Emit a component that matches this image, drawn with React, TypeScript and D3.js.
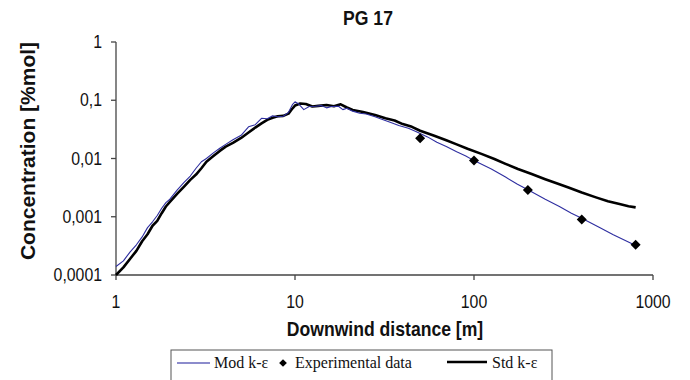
import React from "react";
import * as d3 from "d3";

const title = "PG 17";
const xTicks = [1, 10, 100, 1000];
const xTickLabels = ["1", "10", "100", "1000"];
const yTicks = [1, 0.1, 0.01, 0.001, 0.0001];
const yTickLabels = ["1", "0,1", "0,01", "0,001", "0,0001"];

const stdDist = [1, 1.1, 1.2, 1.3, 1.4, 1.5, 1.6, 1.7, 1.8, 1.9, 2.0, 2.2, 2.4, 2.6, 2.8, 3.0, 3.2, 3.5, 3.8, 4.1, 4.5, 5.0, 5.5, 6.0, 6.5, 7.0, 7.5, 8.0, 8.6, 9.2, 9.6, 10, 10.7, 11.5, 12.5, 13.5, 15, 16.5, 18, 19.5, 21, 24, 28, 32, 36, 40, 45, 50, 60, 70, 80, 92, 110, 130, 150, 176, 210, 250, 300, 340, 400, 480, 560, 650, 730, 800];
const stdConc = [1.0e-4, 1.35e-4, 1.9e-4, 2.6e-4, 3.8e-4, 5.0e-4, 7.0e-4, 8.5e-4, 1.15e-3, 1.5e-3, 1.8e-3, 2.5e-3, 3.3e-3, 4.3e-3, 5.3e-3, 6.8e-3, 8.8e-3, 1.1e-2, 1.35e-2, 1.6e-2, 1.85e-2, 2.25e-2, 2.8e-2, 3.4e-2, 4.0e-2, 4.6e-2, 5.0e-2, 5.3e-2, 5.4e-2, 5.9e-2, 7.0e-2, 8.1e-2, 8.8e-2, 8.6e-2, 7.8e-2, 8.0e-2, 8.3e-2, 7.9e-2, 8.5e-2, 7.5e-2, 6.8e-2, 6.3e-2, 5.6e-2, 4.9e-2, 4.5e-2, 3.9e-2, 3.5e-2, 3.0e-2, 2.45e-2, 2.05e-2, 1.75e-2, 1.47e-2, 1.2e-2, 9.8e-3, 8.1e-3, 6.6e-3, 5.4e-3, 4.4e-3, 3.6e-3, 3.15e-3, 2.6e-3, 2.15e-3, 1.85e-3, 1.65e-3, 1.52e-3, 1.45e-3];

const modDist = [1, 1.1, 1.2, 1.3, 1.4, 1.5, 1.6, 1.7, 1.8, 1.9, 2.0, 2.2, 2.4, 2.6, 2.8, 3.0, 3.2, 3.5, 3.8, 4.1, 4.5, 5.0, 5.5, 6.0, 6.5, 7.0, 7.5, 8.0, 8.6, 9.2, 9.7, 10, 10.5, 11.2, 12, 13, 14, 15, 16, 17.5, 18.5, 19.5, 21, 23, 25, 28, 30, 34, 38, 43, 48, 55, 62, 70, 80, 90, 100, 125, 150, 175, 200, 250, 300, 350, 400, 500, 600, 700, 800];
const modConc = [1.4e-4, 1.75e-4, 2.5e-4, 3.3e-4, 4.5e-4, 6.5e-4, 8.2e-4, 1.05e-3, 1.4e-3, 1.75e-3, 2.0e-3, 2.9e-3, 3.9e-3, 5.0e-3, 6.8e-3, 8.8e-3, 1.0e-2, 1.25e-2, 1.5e-2, 1.75e-2, 2.1e-2, 2.5e-2, 3.5e-2, 3.8e-2, 4.9e-2, 4.8e-2, 5.4e-2, 5.2e-2, 5.3e-2, 6.2e-2, 8.5e-2, 9.4e-2, 8.6e-2, 6.9e-2, 7.8e-2, 7.9e-2, 8.1e-2, 7.4e-2, 7.8e-2, 7.9e-2, 6.9e-2, 7.3e-2, 6.5e-2, 6.0e-2, 5.8e-2, 5.2e-2, 4.8e-2, 4.2e-2, 3.7e-2, 3.3e-2, 2.85e-2, 2.35e-2, 1.9e-2, 1.6e-2, 1.3e-2, 1.1e-2, 9.2e-3, 6.6e-3, 4.8e-3, 3.6e-3, 2.9e-3, 2.0e-3, 1.5e-3, 1.15e-3, 9.4e-4, 6.6e-4, 4.9e-4, 3.9e-4, 3.2e-4];

const expDist = [50, 100, 200, 400, 800];
const expConc = [0.0223, 0.0092, 0.00288, 0.0009, 0.00033];

const SANS = "'Liberation Sans', Arial, sans-serif";
const SERIF = "'Liberation Serif', 'Times New Roman', serif";
const SX = 0.88;

function T({ x, y, children, size, weight = "normal", anchor = "middle", family = SANS, sx = SX }: any) {
  return (
    <text
      transform={`translate(${x},${y}) scale(${sx},1)`}
      textAnchor={anchor}
      fontSize={size}
      fontWeight={weight}
      fontFamily={family}
      fill="#111"
    >
      {children}
    </text>
  );
}

export default function App() {
  const W = 690, H = 380;
  const x = d3.scaleLog().domain([1, 1000]).range([116, 653]);
  const y = d3.scaleLog().domain([0.0001, 1]).range([275, 42]);
  const line = d3.line<[number, number]>().x(d => x(d[0])).y(d => y(d[1]));
  const stdPts = stdDist.map((d, i) => [d, stdConc[i]] as [number, number]);
  const modPts = modDist.map((d, i) => [d, modConc[i]] as [number, number]);
  const diamond = d3.symbol().type(d3.symbolSquare).size(50)() as string;
  const x0 = x(1), x1 = x(1000), y0 = y(0.0001), y1 = y(1);
  const axisColor = "#444";
  return (
    <svg width={W} height={H} style={{ position: "absolute", left: 0, top: 0, background: "#fff" }}>
      <T x={368} y={25} size={20} weight="bold">{title}</T>
      {/* axes */}
      <line x1={x0} x2={x0} y1={y1} y2={y0} stroke={axisColor} strokeWidth={1.3} />
      <line x1={x0} x2={x1} y1={y0} y2={y0} stroke={axisColor} strokeWidth={1.3} />
      {yTicks.map((t, i) => (
        <g key={"y" + i}>
          <line x1={x0 - 5} x2={x0} y1={y(t)} y2={y(t)} stroke={axisColor} strokeWidth={1.3} />
          <T x={102} y={y(t) + 6} size={18} anchor="end">{yTickLabels[i]}</T>
        </g>
      ))}
      {xTicks.map((t, i) => (
        <g key={"x" + i}>
          <line x1={x(t)} x2={x(t)} y1={y0} y2={y0 + 5} stroke={axisColor} strokeWidth={1.3} />
          <T x={x(t)} y={308} size={18}>{xTickLabels[i]}</T>
        </g>
      ))}
      <text transform="translate(35,151) rotate(-90)" textAnchor="middle" fontSize={21} fontWeight="bold" fontFamily={SANS} fill="#111">
        Concentration [%mol]
      </text>
      <T x={385} y={336} size={20} weight="bold">Downwind distance [m]</T>
      {/* series */}
      <path d={line(stdPts) as string} fill="none" stroke="#000" strokeWidth={2.6} strokeLinejoin="round" />
      <path d={line(modPts) as string} fill="none" stroke="#2e2ea0" strokeWidth={1.1} strokeLinejoin="round" />
      {expDist.map((d, i) => (
        <path key={"e" + i} d={diamond} transform={`translate(${x(d)},${y(expConc[i])}) rotate(45)`} fill="#000" />
      ))}
      {/* legend */}
      <rect x={171} y={350} width={381} height={45} fill="#fff" stroke="#555" strokeWidth={1} />
      <line x1={177} x2={210} y1={363} y2={363} stroke="#6666bb" strokeWidth={1.6} />
      <T x={214} y={368} size={16} anchor="start" family={SERIF} sx={1}>Mod k-ε</T>
      <path d={d3.symbol().type(d3.symbolSquare).size(30)() as string} transform="translate(283,363) rotate(45)" fill="#000" />
      <T x={295} y={368} size={16} anchor="start" family={SERIF} sx={1}>Experimental data</T>
      <line x1={447} x2={487} y1={362} y2={362} stroke="#000" strokeWidth={2.6} />
      <T x={492} y={368} size={16} anchor="start" family={SERIF} sx={1}>Std k-ε</T>
    </svg>
  );
}
